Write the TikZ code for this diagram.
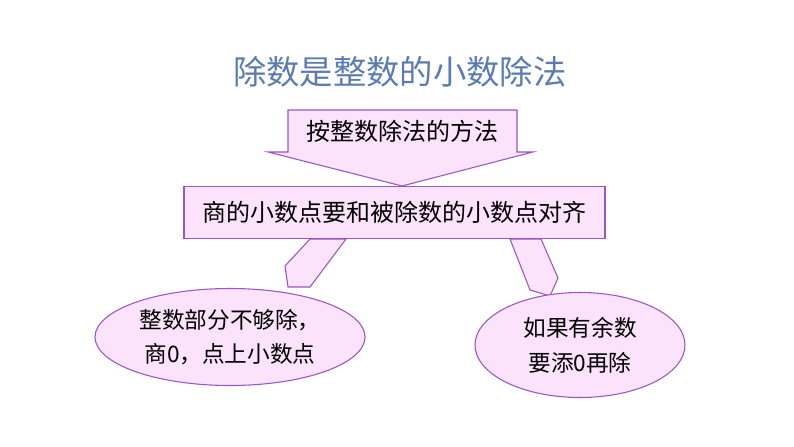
\documentclass[tikz,border=0pt]{standalone}
\usepackage{fontspec}
\setmainfont{Noto Sans CJK SC}
\usetikzlibrary{shapes.geometric}
\definecolor{lilac}{HTML}{FBE3FB}
\definecolor{edge}{HTML}{9A55C6}
\definecolor{titleblue}{HTML}{5B7BB3}
\tikzset{
  blk/.style={fill=lilac,draw=edge,line width=0.8pt},
  lbl/.style={font=\fontsize{18}{22}\selectfont},
  oval/.style={blk,ellipse,align=center,font=\fontsize{17}{26}\selectfont}
}
\begin{document}
\begin{tikzpicture}[x=0.75pt,y=-0.75pt]
        \useasboundingbox (0,0) rectangle (794,447);

        % arrows first
        \draw[blk] (288,110) -- (517,110) -- (517,152) -- (533,152) -- (402,186) -- (268,152) -- (288,152) -- cycle;
        \draw[blk] (310,239) -- (346,239) -- (310,287) -- (288,287) -- (285,266) -- cycle;
        \draw[blk] (510,239) -- (541,239) -- (558,278) -- (550,296) -- (530,290) -- cycle;

        \node (title) [text=titleblue,font=\fontsize{25}{30}\selectfont] at (400,72) {除数是整数的小数除法};
        \node (method) [lbl] at (402,131) {按整数除法的方法};
        \node (align) [blk,lbl,minimum width=421*0.75pt,minimum height=52*0.75pt] at (394.5,212.5) {商的小数点要和被除数的小数点对齐};

        \node (left) [oval,minimum width=270*0.75pt,minimum height=97*0.75pt] at (230,337) {整数部分不够除，\\商0，点上小数点};
        \node (right) [oval,minimum width=210*0.75pt,minimum height=105*0.75pt] at (580,345) {如果有余数\\要添0再除};
\end{tikzpicture}
\end{document}
